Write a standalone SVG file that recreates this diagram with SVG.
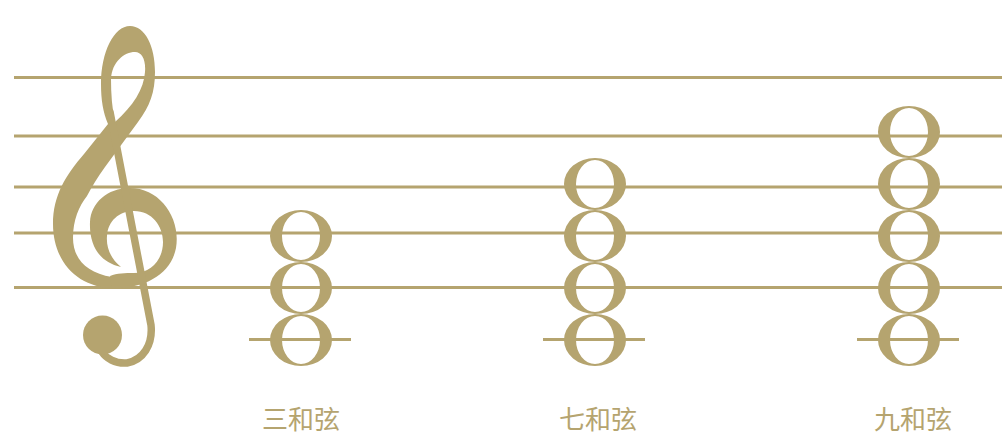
<svg xmlns="http://www.w3.org/2000/svg" width="1002" height="448" viewBox="0 0 1002 448">
<defs>
<style>
.staff{stroke:#b5a46f;stroke-width:3;fill:none}
.ledger{stroke:#b5a46f;stroke-width:3;fill:none}
.ink{fill:#b5a46f}
.stem{stroke:#b5a46f;stroke-width:7.5;fill:none;stroke-linecap:round}
.label{font-family:"Noto Sans CJK SC","Noto Sans",sans-serif;font-size:26px;fill:#b5a46f;text-anchor:middle}
</style>
<path id="note" fill-rule="evenodd" d="M-31,0 A31,26 0 1,0 31,0 A31,26 0 1,0 -31,0 Z M-19,0 A19,24 0 1,1 19,0 A19,24 0 1,1 -19,0 Z"/>
</defs>
<rect width="1002" height="448" fill="#ffffff"/>
<g id="staff">
<line class="staff" x1="14" y1="77.5" x2="1002" y2="77.5"/>
<line class="staff" x1="14" y1="136" x2="1002" y2="136"/>
<line class="staff" x1="14" y1="187" x2="1002" y2="187"/>
<line class="staff" x1="14" y1="233" x2="1002" y2="233"/>
<line class="staff" x1="14" y1="287.5" x2="1002" y2="287.5"/>
</g>
<g id="clef" class="ink">
<path fill-rule="evenodd" d="M130,26 C145,26 155,46 155,72 C155,92 150,106 138,122 L105,167 C98,177 92,186 87,196 C79,206 73,220 73,238 C73,258 86,273 112,277 L114,288 C78,288 53,262 53,224 C53,195 66,175 84,154 L108,124 C103,112 101,100 101,84 C101,52 114,26 130,26 Z M135,52 C142,52 146,60 145,72 C144,89 133,106 115,122 C112,108 111,94 111,79 C112,62 124,52 135,52 Z"/>
<path d="M112,288 C145,289 171,274 176,248 C181,218 160,188 130,188 C107,188 91,203 90,222 C89,245 99,262 121,267 C111,259 106,248 107,236 C108,221 119,211 134,211 C152,211 163,226 163,242 C163,260 151,273 134,273 C125,273 117,273 110,276 Z"/>
<path class="stem" d="M110,112 L151,325 C153,345 143,360 127,363 C115,364 106,358 102,352"/>
<circle cx="102.5" cy="335" r="19.5"/>
</g>
<g id="chord-triad" class="ink">
<line class="ledger" x1="249" y1="339.5" x2="351" y2="339.5"/>
<use href="#note" x="301" y="236"/>
<use href="#note" x="301" y="288"/>
<use href="#note" x="301" y="340"/>
</g>
<g id="chord-seventh" class="ink">
<line class="ledger" x1="543" y1="339.5" x2="645" y2="339.5"/>
<use href="#note" x="595" y="184"/>
<use href="#note" x="595" y="236"/>
<use href="#note" x="595" y="288"/>
<use href="#note" x="595" y="340"/>
</g>
<g id="chord-ninth" class="ink">
<line class="ledger" x1="857" y1="339.5" x2="959" y2="339.5"/>
<use href="#note" x="909" y="132"/>
<use href="#note" x="909" y="184"/>
<use href="#note" x="909" y="236"/>
<use href="#note" x="909" y="288"/>
<use href="#note" x="909" y="340"/>
</g>
<g id="labels">
<text class="label" x="301" y="429">三和弦</text>
<text class="label" x="598" y="429">七和弦</text>
<text class="label" x="913" y="429">九和弦</text>
</g>
</svg>
